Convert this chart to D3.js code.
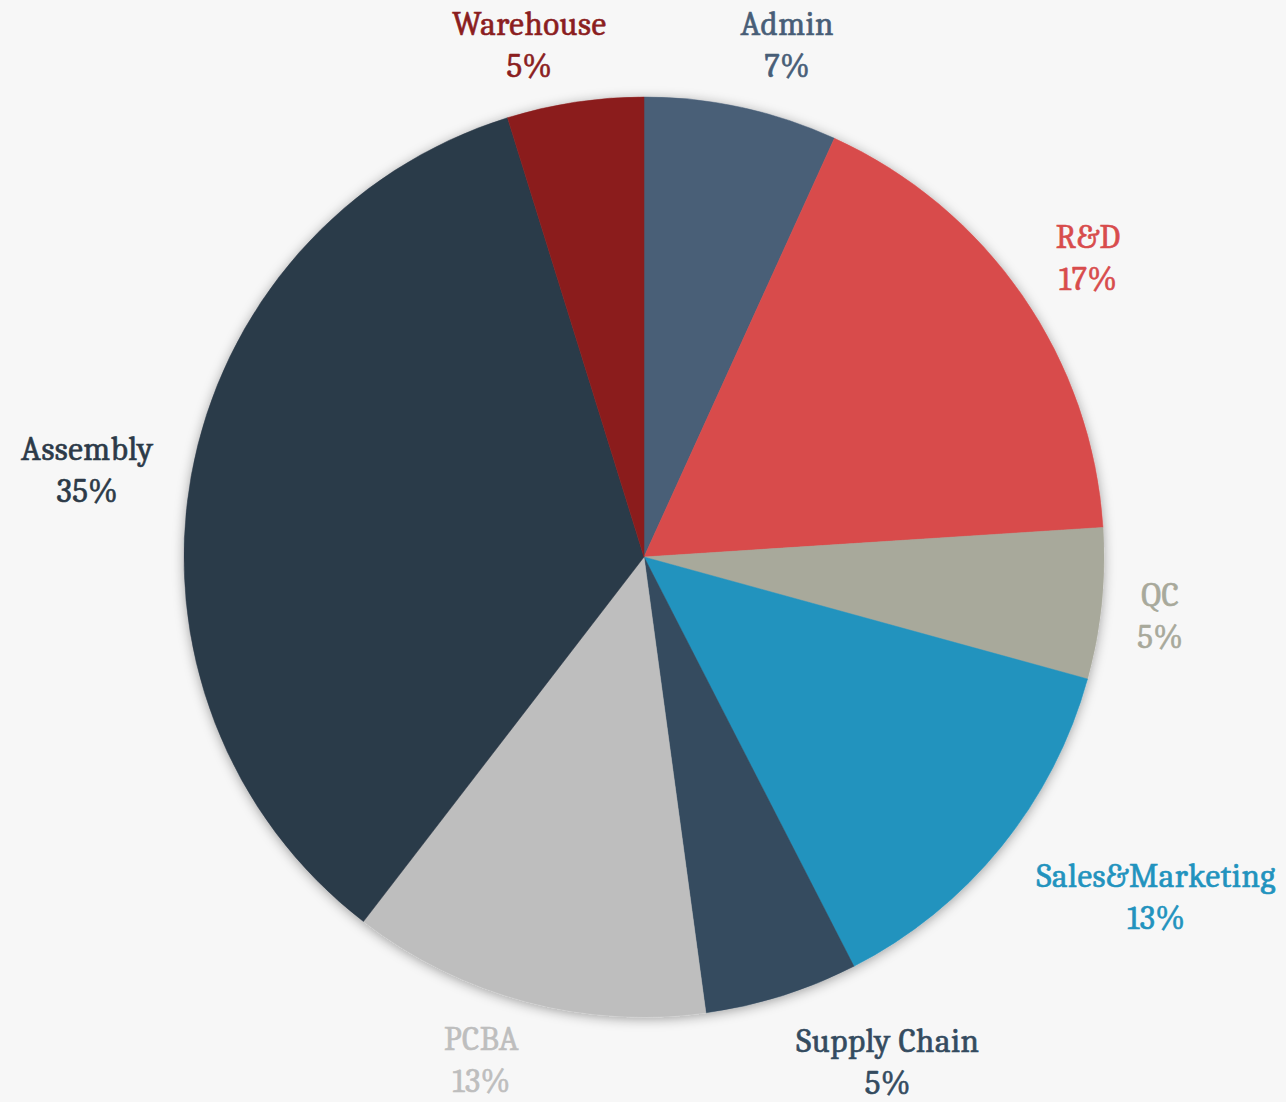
<!DOCTYPE html>
<html>
<head>
<meta charset="utf-8">
<script src="https://cdn.jsdelivr.net/npm/d3@7"></script>
<style>
  html, body { margin: 0; padding: 0; background: #f7f7f7; }
  svg { display: block; }
  .lbl { font-family: Cambria, "DejaVu Serif", serif; font-size: 33px; font-stretch: condensed; letter-spacing: 0.5px; stroke-width: 0.6px; }
</style>
</head>
<body>
<svg></svg>
<script>
var width = 1286, height = 1102;

// departments, clockwise from 12 o'clock
var categories = ["Admin", "R&D", "QC", "Sales&Marketing", "Supply Chain", "PCBA", "Assembly", "Warehouse"];
var shares = [6.8, 17.2, 5.3, 13.2, 5.4, 12.6, 34.8, 4.8];
var colors = ["#485e77", "#d84c4c", "#a8a99b", "#2293be", "#344b5f", "#bebebe", "#2c3a48", "#8b1e1f"];

// label nudges (px) from the plain radial spot, like Excel's best fit
var nudges = [[31, 5], [8, 1], [-11, 4], [101, 5], [85, -2], [-26, -10], [-35, 5], [-35, 11]];

var svg = d3.select("svg")
  .attr("width", width)
  .attr("height", height);

var defs = svg.append("defs");
var shadow = defs.append("filter")
  .attr("id", "shadow")
  .attr("x", "-20%").attr("y", "-20%")
  .attr("width", "140%").attr("height", "140%");
shadow.append("feDropShadow")
  .attr("dx", 0).attr("dy", 2)
  .attr("stdDeviation", 6)
  .attr("flood-color", "#000")
  .attr("flood-opacity", 0.35);

var cx = 644, cy = 557, radius = 460;

var data = categories.map(function(c, i) {
  return {name: c, value: shares[i], color: colors[i], nudge: nudges[i]};
});

var pie = d3.pie()
  .sort(null)
  .value(function(d) { return d.value; });

var arc = d3.arc().innerRadius(0).outerRadius(radius);
var labelArc = d3.arc().innerRadius(530).outerRadius(530);

var total = d3.sum(shares);
var arcs = pie(data);

var g = svg.append("g")
  .attr("transform", "translate(" + cx + "," + cy + ")");

g.append("g")
  .attr("filter", "url(#shadow)")
  .selectAll("path")
  .data(arcs)
  .enter().append("path")
  .attr("d", arc)
  .attr("fill", function(d) { return d.data.color; })
  .attr("stroke", function(d) { return d.data.color; })
  .attr("stroke-width", 0.5);

var labels = g.append("g")
  .selectAll("text")
  .data(arcs)
  .enter().append("text")
  .attr("class", "lbl")
  .attr("text-anchor", "middle")
  .attr("fill", function(d) { return d.data.color; })
  .attr("stroke", function(d) { return d.data.color; })
  .attr("transform", function(d) {
    var p = labelArc.centroid(d);
    return "translate(" + (p[0] + d.data.nudge[0]) + "," + (p[1] + d.data.nudge[1]) + ")";
  });

labels.append("tspan")
  .attr("x", 0)
  .attr("y", -9)
  .text(function(d) { return d.data.name; });

labels.append("tspan")
  .attr("x", 0)
  .attr("y", 33)
  .text(function(d) { return Math.round(d.data.value / total * 100) + "%"; });
</script>
</body>
</html>
